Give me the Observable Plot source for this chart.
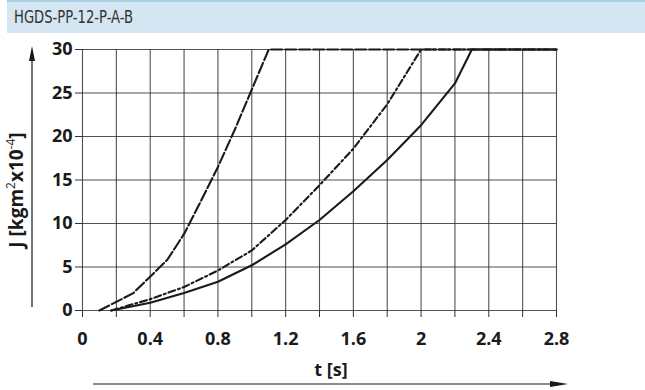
<!DOCTYPE html>
<html>
<head>
<meta charset="utf-8">
<script src="https://cdn.jsdelivr.net/npm/d3@7"></script>
<script src="https://cdn.jsdelivr.net/npm/@observablehq/plot@0.6"></script>
<style>
  html, body { margin: 0; padding: 0; background: #fff; }
  #header {
    margin-left: 7px; height: 31px; background: #d3e6f1;
    border-top: 2px solid #a9cfe5; box-sizing: content-box;
    font-family: "Liberation Sans Narrow", "DejaVu Sans Condensed", sans-serif;
    font-size: 17px; color: #333; line-height: 31px; padding-left: 7px;
  }
  #header span { display: inline-block; transform: scaleX(0.86); transform-origin: 0 50%; }
  #chart svg { display: block; }
</style>
</head>
<body>
<div id="header"><span>HGDS-PP-12-P-A-B</span></div>
<div id="chart"></div>
<script>
// Data
const dashedT  = [0.1, 0.3, 0.5, 0.6, 0.7, 0.8, 0.9, 1.0, 1.1, 2.8];
const dashedJ  = [0, 2.0, 5.8, 8.8, 12.6, 16.5, 20.8, 25.4, 30, 30];
const dashDotT = [0.17, 0.4, 0.6, 0.8, 1.0, 1.2, 1.4, 1.6, 1.8, 2.0, 2.8];
const dashDotJ = [0, 1.3, 2.7, 4.6, 6.9, 10.4, 14.4, 18.6, 23.7, 30, 30];
const solidT   = [0.17, 0.4, 0.6, 0.8, 1.0, 1.2, 1.4, 1.6, 1.8, 2.0, 2.2, 2.3, 2.8];
const solidJ   = [0, 0.9, 2.0, 3.3, 5.2, 7.6, 10.4, 13.7, 17.3, 21.3, 26.1, 30, 30];

const xGrid = [0, 0.2, 0.4, 0.6, 0.8, 1.0, 1.2, 1.4, 1.6, 1.8, 2.0, 2.2, 2.4, 2.6, 2.8];
const xLabelTicks = [0, 0.4, 0.8, 1.2, 1.6, 2.0, 2.4, 2.8];
const xTickLabels = ["0", "0.4", "0.8", "1.2", "1.6", "2", "2.4", "2.8"];
const yTicks = [0, 5, 10, 15, 20, 25, 30];
const yTickLabels = ["0", "5", "10", "15", "20", "25", "30"];

const toRows = (T, J) => T.map((t, i) => ({t, j: J[i]}));
const dashed = toRows(dashedT, dashedJ);
const dashDot = toRows(dashDotT, dashDotJ);
const solid = toRows(solidT, solidJ);

const fmtX = d => { const i = xLabelTicks.findIndex(v => Math.abs(v - d) < 1e-9); return i >= 0 ? xTickLabels[i] : ""; };
const fmtY = d => { const i = yTicks.findIndex(v => Math.abs(v - d) < 1e-9); return i >= 0 ? yTickLabels[i] : ""; };

const gridStyle = {stroke: "#333", strokeOpacity: 0.85, strokeWidth: 1.1};
const lineStyle = {x: "t", y: "j", stroke: "#1a1a1a", strokeWidth: 2.1, curve: "linear"};

const chart = Plot.plot({
  width: 645,
  height: 357,
  marginTop: 16,
  marginBottom: 80,
  marginLeft: 82,
  marginRight: 89,
  style: {fontFamily: "'Open Sans', sans-serif", fontSize: "18px", fontWeight: 700, color: "#1a1a1a", background: "#fff"},
  x: {domain: [0, 2.8]},
  y: {domain: [0, 30]},
  marks: [
    Plot.gridX(xGrid, gridStyle),
    Plot.gridY(yTicks, gridStyle),
    Plot.axisX({ticks: xGrid, tickSize: 7, tickPadding: 15, tickFormat: fmtX, label: null, stroke: "#333"}),
    Plot.axisY({ticks: yTicks, tickSize: 7, tickPadding: 3, tickFormat: fmtY, label: null, stroke: "#333"}),
    Plot.line(dashed, {...lineStyle, strokeDasharray: "11,3"}),
    Plot.line(dashDot, {...lineStyle, strokeDasharray: "7,3,2,3"}),
    Plot.line(solid, lineStyle)
  ]
});
document.getElementById("chart").appendChild(chart);

// Decorations: axis titles and arrows
const svg = d3.select(chart);
const ys = chart.scale("y"), xs = chart.scale("x");
const y0 = ys.apply(0), y30 = ys.apply(30);
const x0 = xs.apply(0), x28 = xs.apply(2.8);

// vertical arrow
const ax = 32;
svg.append("line").attr("x1", ax).attr("x2", ax).attr("y1", y0 - 3).attr("y2", y30 + 4)
  .attr("stroke", "#1a1a1a").attr("stroke-width", 1.2);
svg.append("path").attr("d", `M${ax},${y30 - 3} L${ax - 3},${y30 + 12} L${ax + 3},${y30 + 12} Z`).attr("fill", "#1a1a1a");

// horizontal arrow
const ay = 351;
svg.append("line").attr("x1", x0 + 11).attr("x2", x28 + 2).attr("y1", ay).attr("y2", ay)
  .attr("stroke", "#1a1a1a").attr("stroke-width", 1.2);
svg.append("path").attr("d", `M${x28 + 12},${ay} L${x28 - 6},${ay - 3} L${x28 - 6},${ay + 3} Z`).attr("fill", "#1a1a1a");

// x title
svg.append("text").attr("x", 331).attr("y", 343).attr("text-anchor", "middle")
  .attr("font-family", "'Open Sans', sans-serif").attr("font-size", 18).attr("font-weight", 700).attr("fill", "#1a1a1a")
  .text("t [s]");

// y title
const yt = svg.append("text").attr("transform", `translate(23,157) rotate(-90)`).attr("text-anchor", "middle")
  .attr("font-family", "'Open Sans', sans-serif").attr("font-size", 19).attr("font-weight", 700).attr("fill", "#1a1a1a");
yt.append("tspan").text("J [kgm");
yt.append("tspan").attr("dy", -8).attr("font-size", 12).attr("font-weight", 400).text("2");
yt.append("tspan").attr("dy", 8).text("x10");
yt.append("tspan").attr("dy", -8).attr("font-size", 12).attr("font-weight", 400).text("-4");
yt.append("tspan").attr("dy", 8).text("]");
</script>
</body>
</html>
